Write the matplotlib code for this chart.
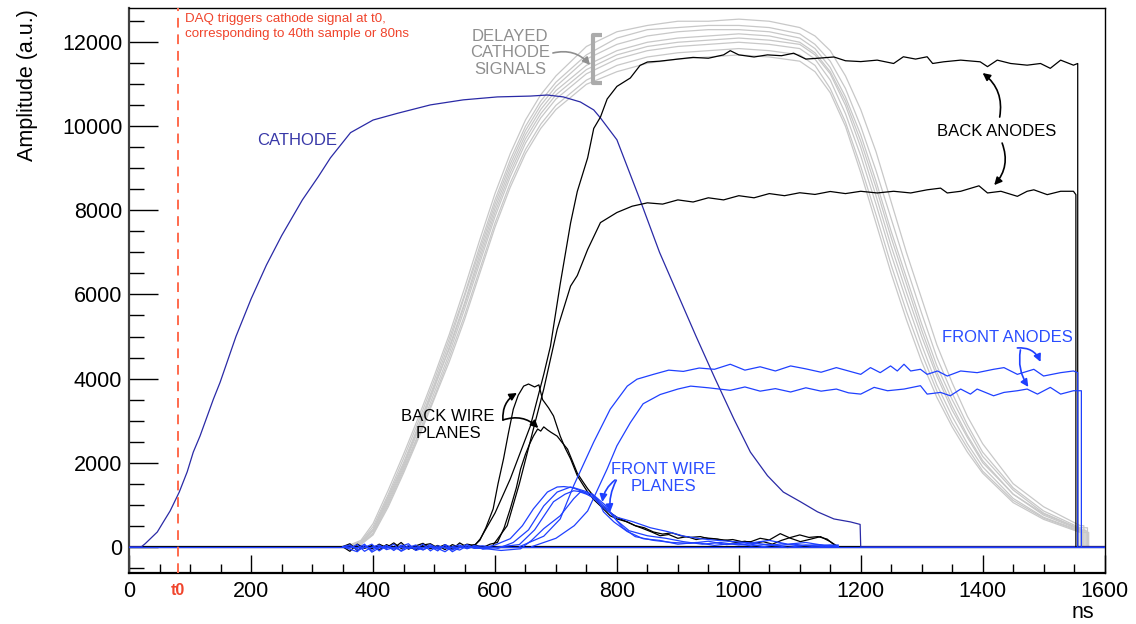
import matplotlib
matplotlib.use('Agg')
import matplotlib.pyplot as plt
from matplotlib.ticker import MultipleLocator, FixedLocator

plt.rcParams['font.family'] = ['Liberation Sans', 'DejaVu Sans']

# ---------------- data (ns, a.u.) ----------------
baseline_t = [0, 1600]
baseline_v = [0, 0]

cathode_t = [0, 20, 26, 46, 56, 67, 82, 95, 105, 116, 128, 138, 149, 175, 200, 225, 250, 284, 310,
             330, 363, 400, 440, 494, 548, 604, 658, 686, 712, 740, 762, 773, 800, 838, 870, 900,
             930, 961, 992, 1019, 1047, 1073, 1101, 1129, 1156, 1183, 1199, 1200, 1600]
cathode_v = [0, 0, 70, 350, 590, 850, 1300, 1780, 2250, 2630, 3110, 3510, 3910, 5000, 5900, 6700,
             7400, 8250, 8800, 9250, 9850, 10150, 10310, 10510, 10630, 10700, 10720, 10745, 10700,
             10580, 10390, 10200, 9680, 8250, 7000, 6000, 5000, 4000, 3035, 2250, 1690, 1300, 1070,
             830, 660, 590, 530, 0, 0]

gray_t = [355, 380, 400, 425, 450, 475, 500, 525, 550, 575, 600, 625, 650, 675, 700, 750, 800, 850,
          900, 950, 1000, 1050, 1100, 1125, 1150, 1175, 1200, 1225, 1250, 1275, 1300, 1325, 1350,
          1375, 1400, 1450, 1500, 1560]
gray_rows = [
    [0, 150, 550, 1350, 2200, 3100, 4050, 5050, 6150, 7300, 8400, 9350, 10150, 10750, 11200, 11900, 12250, 12400, 12500, 12500,
     12550, 12500, 12350, 12150, 11800, 11200, 10400, 9400, 8200, 7000, 5900, 4800, 3900, 3100, 2450, 1500, 950, 500],
    [0, 120, 480, 1250, 2100, 3000, 3950, 4950, 6000, 7150, 8250, 9200, 10000, 10600, 11050, 11700, 12100, 12300, 12350, 12400,
     12400, 12350, 12200, 11950, 11550, 10900, 10000, 8950, 7800, 6650, 5550, 4500, 3650, 2900, 2250, 1400, 850, 450],
    [0, 100, 420, 1200, 2000, 2900, 3850, 4850, 5950, 7050, 8150, 9100, 9900, 10500, 10950, 11600, 11950, 12150, 12250, 12300,
     12300, 12250, 12100, 11850, 11400, 10700, 9800, 8700, 7500, 6400, 5300, 4300, 3500, 2800, 2150, 1350, 800, 420],
    [0, 80, 380, 1100, 1900, 2800, 3750, 4750, 5800, 6950, 8050, 9000, 9800, 10400, 10850, 11450, 11800, 12000, 12100, 12150,
     12200, 12150, 12000, 11750, 11300, 10600, 9650, 8550, 7350, 6250, 5150, 4150, 3350, 2650, 2050, 1250, 750, 400],
    [0, 100, 400, 1150, 1950, 2850, 3800, 4700, 5750, 6850, 7950, 8900, 9700, 10300, 10750, 11350, 11700, 11900, 12000, 12050,
     12100, 12050, 11950, 11700, 11250, 10500, 9500, 8350, 7150, 6050, 5000, 4050, 3250, 2600, 2000, 1250, 780, 420],
    [0, 70, 330, 1050, 1850, 2700, 3650, 4600, 5650, 6750, 7850, 8800, 9600, 10200, 10650, 11250, 11600, 11800, 11900, 11950,
     12000, 11950, 11850, 11600, 11100, 10300, 9300, 8150, 6950, 5850, 4800, 3850, 3100, 2450, 1900, 1150, 700, 380],
    [0, 60, 300, 1000, 1800, 2650, 3550, 4500, 5500, 6600, 7700, 8650, 9450, 10050, 10500, 11100, 11450, 11650, 11750, 11800,
     11850, 11800, 11700, 11450, 10900, 10100, 9050, 7900, 6700, 5600, 4600, 3700, 2950, 2350, 1800, 1100, 680, 360],
    [0, 50, 280, 950, 1750, 2600, 3500, 4400, 5400, 6500, 7600, 8550, 9350, 9950, 10400, 11000, 11300, 11500, 11600, 11650,
     11700, 11650, 11550, 11300, 10800, 10000, 8900, 7700, 6500, 5400, 4400, 3550, 2850, 2250, 1750, 1050, 650, 340],
]
gray_end_t = [1566, 1572, 1560, 1568, 1562, 1570, 1564, 1574]

ba_upper_t = [565, 576, 600, 625, 658, 680, 691, 707, 724, 735, 752, 762, 773, 784, 800, 822, 838, 850, 870,
              900, 925, 950, 975, 986, 1000, 1025, 1047, 1070, 1090, 1110, 1130, 1156, 1175, 1200, 1227,
              1254, 1270, 1290, 1309, 1318, 1336, 1364, 1396, 1408, 1424, 1446, 1473, 1495, 1511, 1528,
              1549, 1556]
ba_upper_v = [0, 190, 800, 1610, 2870, 4100, 4770, 6250, 7700, 8450, 9250, 9950, 10220, 10650, 10950,
              11150, 11450, 11530, 11550, 11600, 11640, 11620, 11700, 11800, 11700, 11650, 11700, 11680,
              11740, 11600, 11620, 11650, 11560, 11540, 11575, 11495, 11655, 11600, 11655, 11495, 11535,
              11575, 11535, 11420, 11575, 11495, 11455, 11495, 11380, 11575, 11455, 11495]

ba_lower_t = [595, 620, 640, 663, 680, 702, 724, 735, 752, 773, 800, 825, 850, 875, 900, 925, 950, 975,
              1000, 1025, 1050, 1075, 1100, 1125, 1150, 1175, 1200, 1227, 1254, 1282, 1309, 1331, 1342,
              1364, 1394, 1408, 1430, 1457, 1473, 1484, 1506, 1528, 1549, 1553]
ba_lower_v = [0, 500, 1500, 2800, 3750, 5170, 6200, 6450, 7070, 7710, 7950, 8100, 8180, 8150, 8250, 8200,
              8300, 8250, 8350, 8300, 8400, 8350, 8420, 8380, 8450, 8400, 8455, 8415, 8455, 8415, 8490,
              8530, 8415, 8455, 8585, 8415, 8455, 8335, 8455, 8490, 8375, 8455, 8455, 8375]

fa_upper_t = [640, 680, 707, 729, 762, 789, 817, 833, 860, 885, 909, 935, 960, 986, 1010, 1035, 1060,
              1085, 1110, 1135, 1160, 1180, 1200, 1216, 1232, 1249, 1260, 1271, 1282, 1298, 1309, 1326,
              1342, 1364, 1391, 1418, 1435, 1457, 1484, 1500, 1528, 1549, 1556]
fa_upper_v = [0, 250, 660, 1450, 2490, 3270, 3820, 3985, 4100, 4200, 4170, 4250, 4220, 4340, 4200, 4280,
              4180, 4300, 4230, 4150, 4260, 4180, 4100, 4260, 4140, 4300, 4180, 4340, 4180, 4220, 4100,
              4180, 4060, 4180, 4140, 4220, 4260, 4100, 4220, 4060, 4140, 4180, 4140]

fa_lower_t = [660, 700, 730, 752, 784, 800, 822, 843, 871, 900, 921, 950, 986, 1010, 1035, 1060, 1085,
              1110, 1135, 1160, 1180, 1200, 1222, 1244, 1271, 1298, 1309, 1331, 1347, 1364, 1380, 1391,
              1418, 1435, 1457, 1473, 1490, 1511, 1528, 1549, 1562]
fa_lower_v = [0, 200, 500, 850, 1850, 2400, 2950, 3400, 3620, 3750, 3820, 3780, 3720, 3800, 3700, 3760,
              3680, 3780, 3700, 3750, 3660, 3630, 3790, 3710, 3750, 3830, 3630, 3670, 3590, 3750, 3630,
              3750, 3590, 3670, 3710, 3750, 3630, 3790, 3630, 3710, 3710]

noise_t = [350, 362, 374, 386, 398, 410, 422, 434, 446, 458, 470, 482, 494, 506, 518, 530, 542, 554, 566]
bw_a_noise = [0, -110, 60, -40, 30, -80, 50, -30, 100, -60, 20, 80, -50, 30, -70, 50, -20, 60, 30]
bw_b_noise = [0, 70, -90, 20, -50, 60, -20, 90, -40, 10, -80, 40, 70, -30, 50, -60, 90, -10, 50]
fw1_noise = [0, -60, -120, 30, -90, 10, -40, 60, -110, -20, 40, -70, 0, -100, 50, -30, -80, 20, -40]
fw2_noise = [0, 40, -80, -20, 60, -100, 20, -60, 10, 70, -90, -30, 50, -40, -120, 0, 40, -50, 10]
fw3_noise = [0, -30, 50, -110, -10, 40, -70, -20, -90, 30, -50, 60, -100, 20, -30, -80, 10, -40, 30]
fw4_noise = [0, 20, -40, 60, -130, -30, 30, -90, 40, -50, -10, -80, 20, -60, 30, -120, -20, 50, -30]

bw_a_t = [575, 585, 597, 605, 614, 622, 630, 638, 647, 655, 665, 672, 678, 688, 696, 707, 715, 724, 735,
          744, 752, 762, 773, 789, 800, 817, 830, 843, 857, 871, 885, 900, 915, 930, 945, 960, 975, 990,
          1005, 1020, 1035, 1050, 1068, 1085, 1101, 1118, 1134, 1150, 1163]
bw_a_v = [150, 450, 900, 1500, 2090, 2700, 3270, 3600, 3820, 3870, 3800, 3850, 3500, 3300, 3110, 2630,
          2350, 2090, 1690, 1480, 1300, 1120, 970, 735, 660, 590, 500, 430, 350, 260, 290, 200, 240, 170,
          210, 190, 150, 170, 120, 120, 200, 160, 310, 200, 120, 180, 240, 120, 0]

bw_b_t = [580, 592, 604, 615, 625, 635, 642, 650, 657, 663, 670, 675, 680, 686, 692, 702, 710, 719, 728,
          735, 744, 752, 762, 773, 785, 800, 815, 830, 845, 860, 875, 890, 905, 920, 937, 950, 965, 980,
          995, 1010, 1025, 1040, 1055, 1070, 1085, 1100, 1115, 1130, 1145, 1160]
bw_b_v = [-20, 60, 100, 450, 900, 1400, 1850, 2200, 2450, 2630, 2800, 2750, 2850, 2780, 2720, 2630, 2480,
          2320, 2000, 1750, 1550, 1380, 1200, 1000, 850, 700, 600, 500, 450, 350, 300, 330, 260, 220,
          240, 190, 180, 150, 100, 130, 80, 120, 60, 150, 220, 280, 220, 240, 180, 0]

fw1_t = [580, 600, 625, 645, 663, 686, 702, 713, 730, 752, 768, 778, 795, 817, 843, 870, 900, 930, 960,
         990, 1020, 1050, 1080, 1110, 1140, 1163]
fw1_v = [-30, 40, 190, 500, 900, 1300, 1420, 1430, 1400, 1300, 1140, 830, 590, 360, 190, 150, 60, 100,
         30, 80, 20, 60, -20, 40, 0, 20]
fw2_t = [580, 605, 630, 655, 680, 702, 724, 746, 762, 780, 800, 827, 855, 883, 910, 937, 965, 992, 1020,
         1050, 1080, 1110, 1140, 1163]
fw2_v = [20, -40, 100, 400, 970, 1300, 1420, 1300, 1150, 900, 700, 590, 450, 360, 250, 190, 150, 120, 90,
         150, 60, 100, 30, 40]
fw3_t = [580, 610, 640, 665, 696, 715, 729, 740, 760, 780, 800, 820, 850, 880, 909, 940, 970, 1000, 1030,
         1060, 1090, 1120, 1150, 1163]
fw3_v = [-60, 0, 50, 400, 1070, 1250, 1330, 1310, 1250, 1000, 620, 380, 260, 200, 120, 60, 100, 40, 80,
         20, 60, 10, 40, 0]
fw4_t = [580, 610, 642, 660, 680, 707, 729, 740, 750, 765, 780, 795, 810, 830, 860, 890, 920, 950, 980,
         1010, 1040, 1070, 1100, 1130, 1163]
fw4_v = [-40, -90, -50, 150, 430, 735, 1140, 1300, 1250, 1150, 950, 700, 450, 240, 150, 100, 80, 130, 50,
         90, 0, 70, 20, 50, 0]

t0_ns = 80
x_ticks = [0, 200, 400, 600, 800, 1000, 1200, 1400, 1600]
y_ticks = [0, 2000, 4000, 6000, 8000, 10000, 12000]

# ---------------- colours ----------------
C_GRAY = '#c8c8c8'
C_NAVY = '#2a2aa6'
C_BLUE = '#1f40ff'
C_BLACK = '#000000'
C_RED = '#f0442c'

# ---------------- figure ----------------
fig = plt.figure(figsize=(11.36, 6.24), dpi=100)
ax = fig.add_axes([0.1138, 0.0822, 0.8585, 0.9045])
ax.set_xlim(0, 1600)
ax.set_ylim(-619, 12808)

LW = 0.9
ax.plot(baseline_t, baseline_v, color=C_BLACK, lw=1.6, zorder=2)
ax.plot(baseline_t, baseline_v, color=C_BLUE, lw=0.9, zorder=6)

for row, tend in zip(gray_rows, gray_end_t):
    xs = [0, gray_t[0]] + gray_t + [tend, tend]
    ys = [0, 0] + row + [row[-1], 0]
    ax.plot(xs, ys, color=C_GRAY, lw=LW, zorder=1)

ax.plot(cathode_t, cathode_v, color=C_NAVY, lw=LW, zorder=3)

def trace(t, v, color, z):
    ax.plot(t + [t[-1]], v + [0], color=color, lw=LW, zorder=z)

trace(ba_upper_t, ba_upper_v, C_BLACK, 4)
trace(ba_lower_t, ba_lower_v, C_BLACK, 4)
trace(fa_upper_t, fa_upper_v, C_BLUE, 5)
trace(fa_lower_t, fa_lower_v, C_BLUE, 5)

ax.plot(noise_t + bw_a_t, bw_a_noise + bw_a_v, color=C_BLACK, lw=LW, zorder=4)
ax.plot(noise_t + bw_b_t, bw_b_noise + bw_b_v, color=C_BLACK, lw=LW, zorder=4)
for nz, tt, vv in [(fw1_noise, fw1_t, fw1_v), (fw2_noise, fw2_t, fw2_v),
                   (fw3_noise, fw3_t, fw3_v), (fw4_noise, fw4_t, fw4_v)]:
    ax.plot(noise_t + tt, nz + vv, color=C_BLUE, lw=LW, zorder=5)

# trigger line
ax.axvline(t0_ns, color='#ff6a4d', lw=1.4, ls=(0, (5, 3.5)), zorder=7)

# ---------------- axes styling ----------------
ax.xaxis.set_major_locator(FixedLocator(x_ticks))
ax.xaxis.set_minor_locator(MultipleLocator(50))
ax.yaxis.set_major_locator(FixedLocator(y_ticks))
ax.yaxis.set_minor_locator(MultipleLocator(500))
ax.tick_params(axis='both', which='both', direction='in', top=False, right=False, width=1.0, colors='black')
ax.tick_params(axis='y', which='major', length=21, pad=5, labelsize=15.5)
ax.tick_params(axis='y', which='minor', length=11)
ax.tick_params(axis='x', which='major', length=13, pad=6, labelsize=15.5)
ax.tick_params(axis='x', which='minor', length=6.5)
for s in ['left', 'bottom']:
    ax.spines[s].set_linewidth(1.6)
ax.spines['left'].set_color('#404040')
for s in ['top', 'right']:
    ax.spines[s].set_linewidth(1.0)

ax.text(0.978, -0.07, 'ns', transform=ax.transAxes, ha='center', va='center', fontsize=15.5)
fig.text(0.0238, 0.985, 'Amplitude (a.u.)', rotation=90, ha='center', va='top', fontsize=15.5)
ax.annotate('t0', xy=(t0_ns, 0), xycoords=('data', 'axes fraction'), xytext=(0, -12.5),
            textcoords='offset points', ha='center', va='center', fontsize=11.5,
            fontweight='bold', color=C_RED)

# ---------------- annotations ----------------
ax.text(92, 12690, 'DAQ triggers cathode signal at t0,\ncorresponding to 40th sample or 80ns',
        color=C_RED, fontsize=9.6, ha='left', va='top', linespacing=1.3)
ax.text(275, 9673, 'CATHODE', color='#3838a8', fontsize=12, ha='center', va='center')
ax.text(625, 11745, 'DELAYED\nCATHODE\nSIGNALS', color='#8f8f8f', fontsize=12, ha='center',
        va='center', linespacing=1.15)
ax.text(1423, 9888, 'BACK ANODES', color='black', fontsize=12, ha='center', va='center')
ax.text(1440, 4966, 'FRONT ANODES', color='#2a4dff', fontsize=12, ha='center', va='center')
ax.text(523, 2894, 'BACK WIRE\nPLANES', color='black', fontsize=12, ha='center', va='center',
        linespacing=1.15)
ax.text(876, 1634, 'FRONT WIRE\nPLANES', color='#2a4dff', fontsize=12, ha='center', va='center',
        linespacing=1.15)

def arrow(p0, p1, color, rad):
    ax.annotate('', xy=p1, xytext=p0,
                arrowprops=dict(arrowstyle='-|>', color=color, lw=1.2, mutation_scale=11,
                                shrinkA=0, shrinkB=0, connectionstyle=f'arc3,rad={rad}'),
                zorder=8)

arrow((1428, 10221), (1400, 11268), 'black', 0.3)
arrow((1432, 9602), (1419, 8602), 'black', -0.3)
arrow((1457, 4728), (1495, 4395), C_BLUE, -0.35)
arrow((1462, 4680), (1475, 3800), C_BLUE, 0.2)
arrow((613, 3014), (636, 3657), 'black', -0.3)
arrow((613, 3014), (671, 2823), 'black', -0.3)
arrow((797, 1587), (776, 1064), C_BLUE, 0.2)
arrow((799, 1580), (789, 826), C_BLUE, 0.15)
arrow((695, 11745), (756, 11460), '#8f8f8f', -0.3)

# bracket
bx = [775, 761, 761, 775]
by = [12166, 12166, 11024, 11024]
ax.plot(bx, by, color='#ababab', lw=3, solid_capstyle='butt', zorder=8)

fig.savefig('out.png', dpi=100)
